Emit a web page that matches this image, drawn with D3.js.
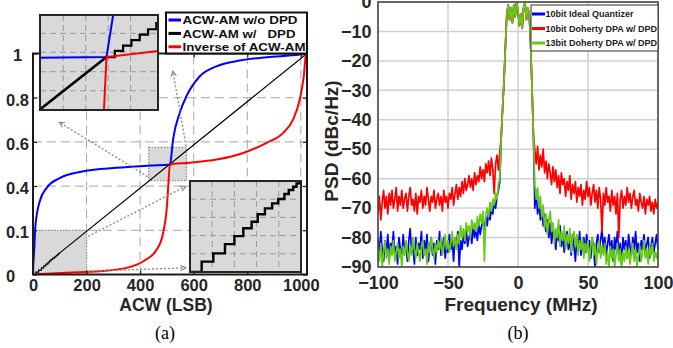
<!DOCTYPE html>
<html>
<head>
<meta charset="utf-8">
<script src="https://cdnjs.cloudflare.com/ajax/libs/d3/7.8.5/d3.min.js"></script>
<style>
body { margin: 0; background: #fff; }
svg text { font-family: "Liberation Sans", Arial, sans-serif; }
</style>
</head>
<body>
<svg width="673" height="348"></svg>
<script>
// ---------- panel (a) : ACW-AM curves ----------
var acwTicks = [0, 200, 400, 600, 800, 1000];
var levelTicks = [0, 0.2, 0.4, 0.6, 0.8, 1];
var levelTickLabels = ['0', '0.1', '0.4', '0.6', '0.8', '1'];

var blueX = [0, 1, 4, 9, 25, 51, 101, 188, 312, 437, 511, 512, 523, 548, 573, 623, 685, 772, 872, 996, 1023];
var blueY = [0, 0.04, 0.1, 0.22, 0.33, 0.392, 0.437, 0.467, 0.483, 0.493, 0.498, 0.5, 0.611, 0.732, 0.807, 0.897, 0.942, 0.968, 0.983, 0.995, 1];

var redX = [0, 126, 250, 350, 412, 462, 486, 499, 505, 511, 573, 685, 785, 872, 934, 971, 996, 1011, 1019, 1023];
var redY = [0, 0.008, 0.015, 0.03, 0.06, 0.113, 0.189, 0.294, 0.4, 0.498, 0.505, 0.52, 0.55, 0.596, 0.641, 0.701, 0.792, 0.897, 0.995, 1];

// staircase of ACW-AM w/ DPD near the origin
var stairLowX = [0, 10.5, 21, 31.5, 40, 48, 55.5, 61, 67.5, 74, 79.5, 85, 89, 93, 96, 99];
var stairLowY = [0, 0.0111, 0.02, 0.030, 0.0386, 0.047, 0.054, 0.062, 0.0684, 0.0738, 0.0784, 0.0838, 0.0881, 0.0917, 0.0953, 0.0978];
var blackX = [99, 1023];
var blackY = [0.0968, 1];

// zoom around the middle code
var midBlueX = [472, 512, 516];
var midBlueY = [0.4995, 0.5, 0.531];
var midRedX = [510.5, 512, 543];
var midRedY = [0.461, 0.5, 0.5045];
var midDiagX = [472, 512];
var midDiagY = [0.4614, 0.5];
var stairMidX = [512, 517, 522, 527, 532, 537, 542, 543];
var stairMidY = [0.5, 0.5045, 0.5085, 0.5125, 0.5165, 0.5205, 0.525, 0.525];
var midGridX = [486, 499.5, 513, 526.5];
var midGridY = [0.4752, 0.4892, 0.5035, 0.5175];
var lowGridX = [20, 40, 60, 80];
var lowGridY = [0.0196, 0.0391, 0.0587, 0.0782];

var legendA = ['ACW-AM w/o DPD', 'ACW-AM w/   DPD', 'Inverse of ACW-AM'];
var legendAWidth = [115, 113, 123];
var colorsA = ['#0000ff', '#000000', '#ff0000'];

// ---------- panel (b) : PSD ----------
var freq = d3.range(-100, 101, 1);
var freqTicks = [-100, -50, 0, 50, 100];
var psdTicks = [-90, -80, -70, -60, -50, -40, -30, -20, -10, 0];

var inBand = [-46, -36, -27, -15, -4, -1, -6, -2, -7, -1, -5, 0, -3, -8, -4, -9, -2, 0, -6, -2, -4, -14, -29, -45];

var idealLeft = [-80, -86, -78, -84, -88, -81, -85, -79, -87, -82,
    -84, -78, -86, -83, -89, -80, -84, -87, -79, -85,
    -82, -88, -81, -77, -85, -83, -89, -80, -86, -82,
    -84, -78, -87, -81, -85, -79, -88, -83, -80, -86,
    -82, -89, -81, -84, -78, -86, -83, -80, -87, -82,
    -85, -79, -84, -81, -88, -80, -83, -78, -90, -81,
    -84, -79, -82, -77, -83, -80, -78, -82, -76, -80,
    -77, -81, -75, -79, -76, -74, -78, -73, -76, -71,
    -74, -70, -72, -68, -70, -66, -64, -61];
var idealRight = [-70, -64, -72, -68, -74, -70, -76, -72, -78, -74,
    -80, -75, -82, -77, -79, -84, -78, -81, -76, -83,
    -79, -85, -80, -78, -84, -81, -86, -79, -83, -88,
    -80, -84, -78, -86, -82, -80, -85, -79, -83, -81,
    -87, -80, -84, -90, -82, -79, -85, -81, -77, -84,
    -80, -86, -82, -79, -85, -81, -88, -80, -84, -78,
    -86, -82, -89, -80, -84, -81, -87, -79, -83, -86,
    -80, -84, -78, -85, -82, -88, -81, -84, -79, -86,
    -82, -80, -87, -83, -80, -85, -82, -79, -84];

var dpa10Left = [-72, -66, -74, -68, -64, -70, -66, -72, -65, -69,
    -64, -70, -67, -63, -71, -66, -69, -64, -70, -67,
    -65, -71, -66, -63, -69, -67, -71, -65, -72, -66,
    -68, -64, -70, -66, -69, -63, -67, -71, -66, -68,
    -64, -70, -67, -65, -69, -66, -71, -64, -68, -66,
    -70, -65, -67, -63, -69, -65, -62, -67, -63, -66,
    -61, -65, -60, -64, -62, -59, -63, -60, -64, -58,
    -62, -59, -61, -56, -60, -57, -61, -55, -58, -54,
    -59, -53, -57, -65, -55, -52, -57, -51];
var dpa10Right = [-50, -55, -49, -57, -52, -56, -50, -58, -54, -60,
    -55, -58, -62, -56, -61, -57, -63, -59, -65, -58,
    -62, -60, -66, -61, -64, -59, -67, -62, -65, -61,
    -68, -63, -66, -62, -69, -64, -67, -61, -66, -63,
    -69, -65, -62, -68, -64, -70, -63, -67, -78, -65,
    -69, -63, -68, -66, -71, -64, -69, -66, -72, -65,
    -80, -67, -64, -70, -66, -69, -63, -68, -65, -70,
    -66, -64, -69, -67, -71, -65, -68, -70, -66, -72,
    -67, -69, -66, -71, -68, -72, -67, -70, -68];

var dpa13Left = [-84, -88, -82, -90, -85, -81, -87, -84, -89, -83,
    -86, -81, -88, -85, -82, -87, -84, -90, -83, -86,
    -81, -85, -88, -83, -86, -80, -84, -87, -82, -85,
    -88, -83, -81, -86, -84, -89, -82, -85, -80, -84,
    -87, -82, -85, -81, -84, -80, -86, -83, -79, -84,
    -81, -85, -82, -78, -83, -80, -84, -79, -82, -76,
    -80, -77, -81, -75, -78, -76, -80, -74, -77, -75,
    -78, -73, -76, -72, -75, -71, -88, -72, -70, -73,
    -68, -71, -67, -69, -65, -67, -62, -60];
var dpa13Right = [-62, -67, -63, -70, -66, -73, -69, -77, -72, -79,
    -74, -71, -78, -75, -82, -77, -80, -74, -83, -78,
    -81, -76, -84, -79, -82, -77, -85, -80, -78, -83,
    -79, -86, -81, -84, -80, -87, -82, -85, -81, -88,
    -83, -80, -86, -82, -89, -84, -81, -87, -83, -86,
    -82, -89, -85, -90, -83, -87, -84, -90, -86, -82,
    -88, -84, -90, -85, -88, -83, -87, -84, -89, -85,
    -82, -88, -84, -90, -86, -83, -88, -85, -81, -87,
    -84, -89, -83, -86, -82, -88, -85, -87, -84];

var legendB = ['10bit Ideal Quantizer', '10bit Doherty DPA w/ DPD', '13bit Doherty DPA w/ DPD'];
var colorsB = ['#0000ff', '#ff0000', '#66cc11'];
var psdSeries = [
    idealLeft.concat(inBand, idealRight),
    dpa10Left.concat(inBand, dpa10Right),
    dpa13Left.concat(inBand, dpa13Right)
];

var svg = d3.select('svg');
var defs = svg.append('defs');
var ink = '#262626';

function clip(id, x, y, w, h) {
    defs.append('clipPath').attr('id', id).append('rect')
        .attr('x', x).attr('y', y).attr('width', w).attr('height', h);
}

defs.append('marker')
    .attr('id', 'arrowhead')
    .attr('viewBox', '0 0 8 8')
    .attr('refX', 7).attr('refY', 4)
    .attr('markerWidth', 7).attr('markerHeight', 7)
    .attr('markerUnits', 'userSpaceOnUse')
    .attr('orient', 'auto')
    .append('path')
    .attr('d', 'M1,1 L7,4 L1,7')
    .attr('fill', 'none')
    .attr('stroke', '#8c8c8c')
    .attr('stroke-width', 1.4);

// ===== panel (a) =====
var xA = d3.scaleLinear().domain([0, 1023]).range([33, 307]);
var yA = d3.scaleLinear().domain([0, 1]).range([274.5, 53.5]);
clip('clipA', 33, 53.5, 274, 221);

var gA = svg.append('g');

gA.append('g').selectAll('line').data(acwTicks).enter().append('line')
    .attr('x1', d => xA(d)).attr('x2', d => xA(d))
    .attr('y1', yA(0)).attr('y2', yA(1))
    .attr('stroke', '#a6a6a6').attr('stroke-dasharray', '9,5');
gA.append('g').selectAll('line').data(levelTicks).enter().append('line')
    .attr('x1', xA(0)).attr('x2', xA(1023))
    .attr('y1', d => yA(d)).attr('y2', d => yA(d))
    .attr('stroke', '#a6a6a6').attr('stroke-dasharray', '9,5');

// zoom boxes
gA.append('rect')
    .attr('x', xA(0)).attr('y', yA(0.2))
    .attr('width', xA(200) - xA(0)).attr('height', yA(0) - yA(0.2))
    .attr('fill', '#d9d9d9');
gA.append('path')
    .attr('d', 'M' + xA(0) + ',' + yA(0.2) + 'H' + xA(200) + 'V' + yA(0))
    .attr('fill', 'none').attr('stroke', '#999').attr('stroke-width', 1.3)
    .attr('stroke-dasharray', '1.5,1.5');
gA.append('rect')
    .attr('x', xA(432)).attr('y', yA(0.575))
    .attr('width', xA(573) - xA(432)).attr('height', yA(0.425) - yA(0.575))
    .attr('fill', '#d9d9d9')
    .attr('stroke', '#8c8c8c').attr('stroke-width', 1.3)
    .attr('stroke-dasharray', '1.5,1.5');

var lineA = d3.line().x(d => xA(d[0])).y(d => yA(d[1]));
var curves = gA.append('g').attr('clip-path', 'url(#clipA)');
curves.append('path')
    .attr('d', lineA.curve(d3.curveMonotoneX)(d3.zip(blueX, blueY)))
    .attr('fill', 'none').attr('stroke', colorsA[0]).attr('stroke-width', 2);
curves.append('path')
    .attr('d', lineA.curve(d3.curveStepAfter)(d3.zip(stairLowX, stairLowY)))
    .attr('fill', 'none').attr('stroke', '#000').attr('stroke-width', 1.2);
curves.append('path')
    .attr('d', lineA.curve(d3.curveLinear)(d3.zip(blackX, blackY)))
    .attr('fill', 'none').attr('stroke', '#000').attr('stroke-width', 1.2);
curves.append('path')
    .attr('d', lineA.curve(d3.curveMonotoneX)(d3.zip(redX, redY)))
    .attr('fill', 'none').attr('stroke', colorsA[2]).attr('stroke-width', 2);

// dotted pointer arrows
var pointers = [
    [[428, 0.443], [98, 0.689]],
    [[572, 0.58], [522, 0.92]],
    [[206, 0.173], [570, 0.399]],
    [[206, 0.015], [570, 0.03]]
];
gA.append('g').selectAll('line').data(pointers).enter().append('line')
    .attr('x1', d => xA(d[0][0])).attr('y1', d => yA(d[0][1]))
    .attr('x2', d => xA(d[1][0])).attr('y2', d => yA(d[1][1]))
    .attr('stroke', '#8c8c8c').attr('stroke-width', 1.4)
    .attr('stroke-dasharray', '2,2')
    .attr('marker-end', 'url(#arrowhead)');

// axes
function styleAxis(g, size) {
    g.attr('font-family', '"Liberation Sans", Arial, sans-serif');
    g.select('.domain').remove();
    g.selectAll('.tick line').attr('stroke', ink).attr('stroke-width', 1.2);
    g.selectAll('text').attr('font-size', size).attr('font-weight', 'bold').attr('fill', ink);
}
gA.append('g').attr('transform', 'translate(0,' + yA(0) + ')')
    .call(d3.axisBottom(xA).tickValues(acwTicks).tickSize(-4).tickPadding(5).tickFormat(d3.format('d')))
    .call(g => styleAxis(g, 16.5));
gA.append('g').attr('transform', 'translate(0,' + yA(1) + ')')
    .call(d3.axisTop(xA).tickValues(acwTicks).tickSize(-4).tickFormat(''))
    .call(g => styleAxis(g, 16.5));
gA.append('g').attr('transform', 'translate(' + xA(1023) + ',0)')
    .call(d3.axisRight(yA).tickValues(levelTicks).tickSize(-4).tickFormat(''))
    .call(g => styleAxis(g, 16.5));
gA.append('g').attr('transform', 'translate(' + xA(0) + ',0)')
    .call(d3.axisLeft(yA).tickValues(levelTicks).tickSize(-4).tickFormat((d, i) => levelTickLabels[i]))
    .call(g => styleAxis(g, 16.5))
    .call(g => g.selectAll('text')
        .attr('text-anchor', 'start')
        .attr('x', d => (d === 1 ? 13 : 6) - xA(0))
        .attr('dy', '0.45em'));

gA.append('rect')
    .attr('x', xA(0)).attr('y', yA(1))
    .attr('width', xA(1023) - xA(0)).attr('height', yA(0) - yA(1))
    .attr('fill', 'none').attr('stroke', '#1a1a1a').attr('stroke-width', 2);

gA.append('text')
    .attr('x', 166).attr('y', 310.5)
    .attr('text-anchor', 'middle')
    .attr('font-size', 17.5).attr('font-weight', 'bold').attr('fill', ink)
    .text('ACW (LSB)');

// inset drawing helper
function inset(id, box, xd, yd, gx, gy, draw) {
    var sx = d3.scaleLinear().domain(xd).range([box[0], box[0] + box[2]]);
    var sy = d3.scaleLinear().domain(yd).range([box[1] + box[3], box[1]]);
    clip(id, box[0], box[1], box[2], box[3]);
    var g = svg.append('g');
    g.append('rect').attr('x', box[0]).attr('y', box[1])
        .attr('width', box[2]).attr('height', box[3]).attr('fill', '#d9d9d9');
    g.append('g').selectAll('line').data(gx).enter().append('line')
        .attr('x1', d => sx(d)).attr('x2', d => sx(d))
        .attr('y1', box[1]).attr('y2', box[1] + box[3])
        .attr('stroke', '#9a9a9a').attr('stroke-dasharray', '6,4');
    g.append('g').selectAll('line').data(gy).enter().append('line')
        .attr('y1', d => sy(d)).attr('y2', d => sy(d))
        .attr('x1', box[0]).attr('x2', box[0] + box[2])
        .attr('stroke', '#9a9a9a').attr('stroke-dasharray', '6,4');
    var inner = g.append('g').attr('clip-path', 'url(#' + id + ')');
    var ln = d3.line().x(d => sx(d[0])).y(d => sy(d[1]));
    draw(inner, ln);
    g.append('rect').attr('x', box[0]).attr('y', box[1])
        .attr('width', box[2]).attr('height', box[3])
        .attr('fill', 'none').attr('stroke', ink).attr('stroke-width', 2);
}

inset('clipI1', [40, 15, 118, 95], [472, 543], [0.461, 0.531], midGridX, midGridY, function(g, ln) {
    g.append('path').attr('d', ln(d3.zip(midBlueX, midBlueY)))
        .attr('fill', 'none').attr('stroke', colorsA[0]).attr('stroke-width', 2);
    g.append('path').attr('d', ln(d3.zip(midDiagX, midDiagY)))
        .attr('fill', 'none').attr('stroke', '#000').attr('stroke-width', 2.6);
    g.append('path').attr('d', ln.curve(d3.curveStepAfter)(d3.zip(stairMidX, stairMidY)))
        .attr('fill', 'none').attr('stroke', '#000').attr('stroke-width', 2.2);
    g.append('path').attr('d', ln.curve(d3.curveLinear)(d3.zip(midRedX, midRedY)))
        .attr('fill', 'none').attr('stroke', colorsA[2]).attr('stroke-width', 2);
});

inset('clipI2', [190, 181, 111, 91], [0, 100], [0, 0.0978], lowGridX, lowGridY, function(g, ln) {
    g.append('path').attr('d', ln.curve(d3.curveStepAfter)(d3.zip(stairLowX, stairLowY)))
        .attr('fill', 'none').attr('stroke', '#000').attr('stroke-width', 2.4);
});

// legend (a)
var legA = svg.append('g');
legA.append('rect').attr('x', 166).attr('y', 12.5).attr('width', 141).attr('height', 41)
    .attr('fill', '#fff').attr('stroke', '#111').attr('stroke-width', 2);
legendA.forEach(function(t, i) {
    var y = 20 + i * 13.4;
    legA.append('line').attr('x1', 168.5).attr('x2', 181).attr('y1', y).attr('y2', y)
        .attr('stroke', colorsA[i]).attr('stroke-width', 3);
    legA.append('text').attr('x', 182.5).attr('y', y + 4.3)
        .attr('font-size', 11.8).attr('font-weight', 'bold').attr('fill', '#111')
        .attr('textLength', legendAWidth[i]).attr('lengthAdjust', 'spacingAndGlyphs')
        .style('white-space', 'pre')
        .text(t);
});

// ===== panel (b) =====
var xB = d3.scaleLinear().domain([-100, 100]).range([378, 658]);
var yB = d3.scaleLinear().domain([-90, 0]).range([267, 2]);
clip('clipB', 378, 2, 280, 265);

var gB = svg.append('g');
gB.append('g').selectAll('line').data(freqTicks).enter().append('line')
    .attr('x1', d => xB(d)).attr('x2', d => xB(d))
    .attr('y1', yB(-90)).attr('y2', yB(0))
    .attr('stroke', '#d0d0d0').attr('stroke-width', 1.5);
gB.append('g').selectAll('line').data(psdTicks).enter().append('line')
    .attr('x1', xB(-100)).attr('x2', xB(100))
    .attr('y1', d => yB(d)).attr('y2', d => yB(d))
    .attr('stroke', '#d0d0d0').attr('stroke-width', 1.5);

var lineB = d3.line().x((d, i) => xB(freq[i])).y(d => yB(d));
gB.append('g').attr('clip-path', 'url(#clipB)')
    .selectAll('path').data(psdSeries).enter().append('path')
    .attr('d', d => lineB(d))
    .attr('fill', 'none')
    .attr('stroke', (d, i) => colorsB[i])
    .attr('stroke-width', 1.7)
    .attr('stroke-linejoin', 'round');

gB.append('rect').attr('x', xB(-100)).attr('y', yB(0))
    .attr('width', xB(100) - xB(-100)).attr('height', yB(-90) - yB(0))
    .attr('fill', 'none').attr('stroke', '#404040').attr('stroke-width', 1.5);

gB.append('g').attr('transform', 'translate(0,' + yB(-90) + ')')
    .call(d3.axisBottom(xB).tickValues(freqTicks).tickSize(0).tickPadding(9))
    .call(g => styleAxis(g, 18));
gB.append('g').attr('transform', 'translate(' + xB(-100) + ',0)')
    .call(d3.axisLeft(yB).tickValues(psdTicks).tickSize(0).tickPadding(6.5))
    .call(g => styleAxis(g, 18));

gB.append('text')
    .attr('x', 521).attr('y', 311)
    .attr('text-anchor', 'middle')
    .attr('font-size', 19).attr('font-weight', 'bold').attr('fill', ink)
    .text('Frequency (MHz)');
gB.append('text')
    .attr('transform', 'translate(337.5,141) rotate(-90)')
    .attr('text-anchor', 'middle')
    .attr('font-size', 19).attr('font-weight', 'bold').attr('fill', ink)
    .text('PSD (dBc/Hz)');

// legend (b)
var legB = svg.append('g');
legB.append('rect').attr('x', 531).attr('y', 5).attr('width', 127).attr('height', 46)
    .attr('fill', '#fff').attr('stroke', '#333').attr('stroke-width', 1);
legendB.forEach(function(t, i) {
    var y = 14 + i * 14.5;
    legB.append('line').attr('x1', 532).attr('x2', 545).attr('y1', y).attr('y2', y)
        .attr('stroke', colorsB[i]).attr('stroke-width', 3);
    legB.append('text').attr('x', 545.5).attr('y', y + 3.3)
        .attr('font-size', 9).attr('font-weight', 'bold').attr('fill', '#222')
        .text(t);
});

// captions
svg.append('text').attr('x', 165).attr('y', 339).attr('text-anchor', 'middle')
    .style('font-family', '"Liberation Serif", "Times New Roman", serif')
    .attr('font-size', 18).text('(a)');
svg.append('text').attr('x', 518).attr('y', 339).attr('text-anchor', 'middle')
    .style('font-family', '"Liberation Serif", "Times New Roman", serif')
    .attr('font-size', 18).text('(b)');
</script>
</body>
</html>
